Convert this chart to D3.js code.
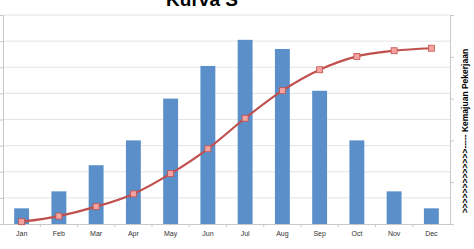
<!DOCTYPE html>
<html>
<head>
<meta charset="utf-8">
<script src="https://cdn.jsdelivr.net/npm/d3@7"></script>
<style>
  body { margin: 0; background: #fff; overflow: hidden; }
  svg { display: block; font-family: "Liberation Sans", Arial, sans-serif; }
</style>
</head>
<body>
<script>
// data
var months = ["Jan","Feb","Mar","Apr","May","Jun","Jul","Aug","Sep","Oct","Nov","Dec"];
var bobot = [1.2, 2.5, 4.5, 6.4, 9.6, 12.1, 14.1, 13.4, 10.2, 6.4, 2.5, 1.2];      // bars, left axis (%)
var kumulatif = [1.1, 3.8, 8.3, 14.4, 24.1, 36.0, 50.6, 63.8, 73.8, 80.2, 82.9, 84.1]; // line, right axis (%)
var leftTicks = [0, 2, 4, 6, 8, 10, 12, 14, 16];
var rightTicks = [0, 20, 40, 60, 80, 100];

function KurvaS(){
  var width = 474, height = 249;
  var pLeft = 3, pRight = 450, pTop = 15, pBottom = 224;

  var svg = d3.select("body").append("svg")
    .attr("width", width)
    .attr("height", height);

  var x = d3.scaleBand()
    .domain(months)
    .range([pLeft, pRight])
    .paddingInner(0.6)
    .paddingOuter(0.3);

  var y = d3.scaleLinear().domain([0, 16]).range([pBottom, pTop]);
  var y2 = d3.scaleLinear().domain([0, 100]).range([pBottom, pTop]);

  // gridlines
  svg.append("g")
    .selectAll("line")
    .data(leftTicks.slice(1))
    .enter().append("line")
    .attr("x1", pLeft).attr("x2", pRight)
    .attr("y1", function(d){ return y(d); })
    .attr("y2", function(d){ return y(d); })
    .attr("stroke", "#e4e4e4")
    .attr("stroke-width", 1);

  // left axis
  var gl = svg.append("g")
    .attr("transform", "translate(" + pLeft + ",0)")
    .call(d3.axisLeft(y).tickValues(leftTicks).tickSize(4).tickSizeOuter(0).tickFormat(""));
  // right axis
  var gr = svg.append("g")
    .attr("transform", "translate(" + pRight + ",0)")
    .call(d3.axisRight(y2).tickValues(rightTicks).tickSize(4).tickSizeOuter(0).tickFormat(""));
  [gl, gr].forEach(function(g){
    g.select(".domain").attr("stroke", "#c8c8c8");
    g.selectAll(".tick line").attr("stroke", "#c8c8c8");
  });

  // bars
  svg.append("g")
    .selectAll("rect")
    .data(bobot)
    .enter().append("rect")
    .attr("x", function(d, i){ return x(months[i]); })
    .attr("width", x.bandwidth())
    .attr("y", function(d){ return y(d); })
    .attr("height", function(d){ return pBottom - y(d); })
    .attr("fill", "#5b8fc9");

  // x axis
  var gx = svg.append("g")
    .attr("transform", "translate(0," + pBottom + ")")
    .call(d3.axisBottom(x).tickSize(0).tickSizeOuter(0).tickPadding(7));
  gx.select(".domain").attr("stroke", "#c8c8c8");
  gx.selectAll(".tick text").attr("font-size", "7px").attr("fill", "#333");
  // tick marks between categories
  var step = x.step();
  gx.selectAll(".sep")
    .data(months.slice(1))
    .enter().append("line")
    .attr("x1", function(d){ return x(d) - step * 0.3; })
    .attr("x2", function(d){ return x(d) - step * 0.3; })
    .attr("y1", 0).attr("y2", 3)
    .attr("stroke", "#c8c8c8");

  // S curve
  var line = d3.line()
    .x(function(d, i){ return x(months[i]) + x.bandwidth() / 2; })
    .y(function(d){ return y2(d); })
    .curve(d3.curveMonotoneX);

  svg.append("path")
    .datum(kumulatif)
    .attr("d", line)
    .attr("fill", "none")
    .attr("stroke", "#c0504d")
    .attr("stroke-width", 2.2);

  svg.append("g")
    .selectAll("rect")
    .data(kumulatif)
    .enter().append("rect")
    .attr("x", function(d, i){ return x(months[i]) + x.bandwidth() / 2 - 3; })
    .attr("y", function(d){ return y2(d) - 3; })
    .attr("width", 6).attr("height", 6)
    .attr("fill", "#f4a3a1")
    .attr("stroke", "#c0504d")
    .attr("stroke-width", 0.8);

  // title (top cut off as in the original)
  svg.append("text")
    .attr("x", 202).attr("y", 6)
    .attr("text-anchor", "middle")
    .attr("font-size", "19px")
    .attr("font-weight", "bold")
    .attr("fill", "#000")
    .text("Kurva S");

  // right axis title
  svg.append("text")
    .attr("transform", "translate(468,131) rotate(-90)")
    .attr("text-anchor", "middle")
    .attr("font-size", "8.5px")
    .attr("font-weight", "bold")
    .attr("fill", "#000")
    .text(">>>>>>>>>>>>>----- Kemajuan Pekerjaan");

  // bottom axis title (mostly below the frame)
  svg.append("text")
    .attr("x", 240).attr("y", 254)
    .attr("font-size", "8px")
    .attr("fill", "#444")
    .text("Waktu Pelaksanaan");
}
KurvaS();
</script>
</body>
</html>
